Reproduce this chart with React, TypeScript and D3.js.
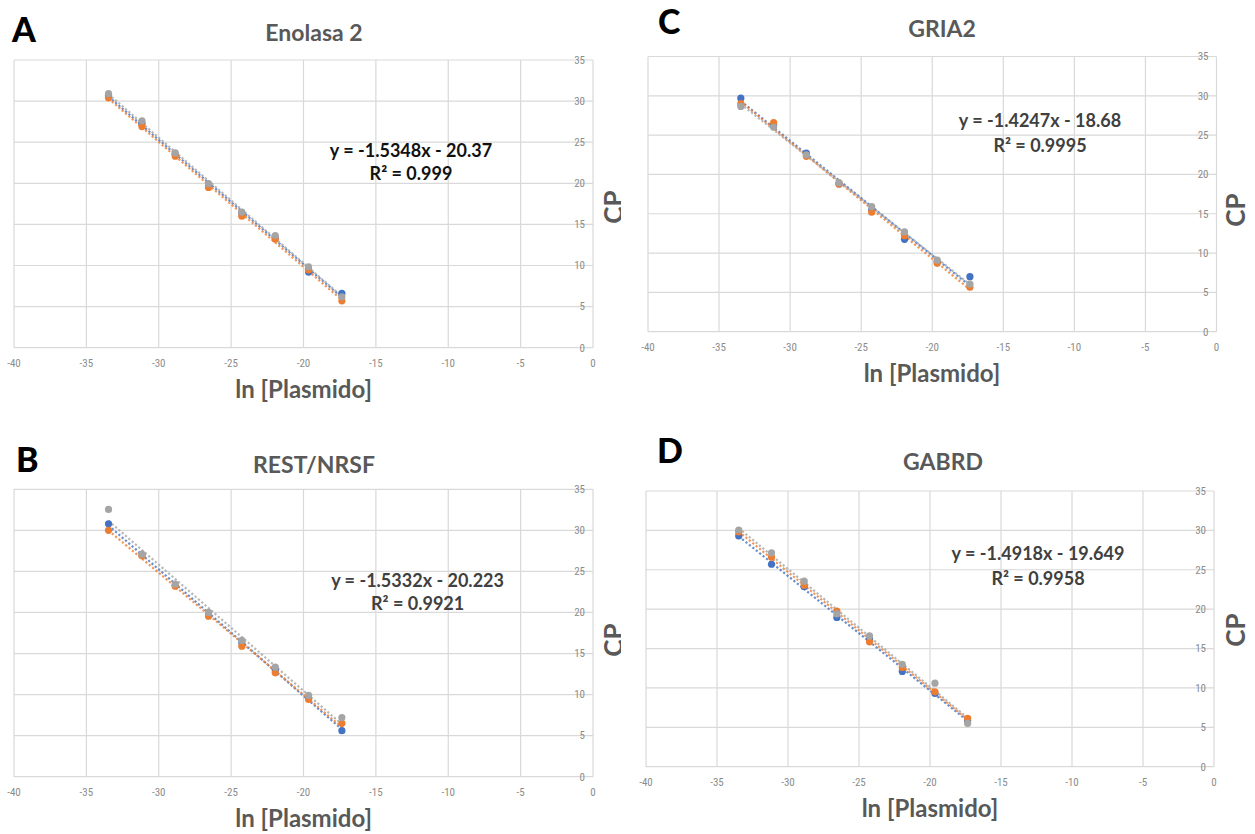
import React from "react";
import * as d3 from "d3";

// ---------- DATA ----------
const xValues = [-33.47, -31.16, -28.86, -26.56, -24.26, -21.95, -19.65, -17.35];
const xTickValues = [-40, -35, -30, -25, -20, -15, -10, -5, 0];
const xTickLabels = ["-40", "-35", "-30", "-25", "-20", "-15", "-10", "-5", "0"];
const yTickValues = [0, 5, 10, 15, 20, 25, 30, 35];
const yTickLabels = ["0", "5", "10", "15", "20", "25", "30", "35"];
const seriesColors = ["#4472C4", "#ED7D31", "#A5A5A5"];

// Panel A - Enolasa 2
const enoBlue = [30.7, 27.3, 23.5, 19.7, 16.3, 13.4, 9.2, 6.6];
const enoOrange = [30.4, 26.9, 23.3, 19.5, 16.0, 13.2, 9.45, 5.7];
const enoGray = [30.9, 27.6, 23.7, 19.95, 16.5, 13.65, 9.85, 6.2];

// Panel B - REST/NRSF
const restBlue = [30.8, 27.0, 23.3, 19.8, 16.3, 13.0, 9.6, 5.6];
const restOrange = [30.0, 26.9, 23.2, 19.55, 15.9, 12.65, 9.4, 6.5];
const restGray = [32.55, 27.1, 23.45, 20.0, 16.6, 13.35, 9.9, 7.2];

// Panel C - GRIA2
const griaBlue = [29.7, 26.3, 22.7, 18.8, 15.5, 11.75, 8.9, 7.0];
const griaOrange = [29.0, 26.6, 22.3, 18.8, 15.2, 12.2, 8.7, 5.65];
const griaGray = [28.65, 26.0, 22.5, 18.95, 15.9, 12.7, 9.1, 6.05];

// Panel D - GABRD
const gabBlue = [29.3, 25.7, 22.85, 18.95, 16.2, 12.1, 9.3, 5.85];
const gabOrange = [29.8, 26.6, 23.05, 19.75, 15.85, 12.6, 9.5, 6.15];
const gabGray = [30.05, 27.15, 23.55, 19.4, 16.6, 13.0, 10.6, 5.5];

const letters = ["A", "B", "C", "D"];
const titles = ["Enolasa 2", "REST/NRSF", "GRIA2", "GABRD"];
const equations = [
  "y = -1.5348x - 20.37",
  "y = -1.5332x - 20.223",
  "y = -1.4247x - 18.68",
  "y = -1.4918x - 19.649",
];
const rSquared = ["R² = 0.999", "R² = 0.9921", "R² = 0.9995", "R² = 0.9958"];
const xAxisTitle = "ln [Plasmido]";
const yAxisTitle = "CP";

// ---------- LAYOUT ----------
const FONT = "Lato, 'Open Sans', sans-serif";
const TICK_FONT = "'Roboto Condensed', 'Liberation Sans Narrow', 'DejaVu Sans Condensed', Roboto, sans-serif";

type Layout = {
  left: number; right: number; top: number; bottom: number;
  letterX: number; letterY: number;
  titleX: number; titleY: number;
  eqX: number; eqY1: number; eqY2: number; eqColor: string;
  xtX: number; xtY: number;
  cpX: number; cpY: number;
  clip: boolean;
};

const layouts: Layout[] = [
  { left: 14, right: 593, top: 60, bottom: 347.7, letterX: 12, letterY: 42, titleX: 314, titleY: 40.5,
    eqX: 411, eqY1: 156.5, eqY2: 180, eqColor: "#111111", xtX: 303.6, xtY: 398, cpX: 614, cpY: 207, clip: true },
  { left: 14, right: 593, top: 489.3, bottom: 776.7, letterX: 16, letterY: 472, titleX: 314, titleY: 473,
    eqX: 417.6, eqY1: 586.5, eqY2: 610, eqColor: "#404040", xtX: 303.6, xtY: 826.5, cpX: 614, cpY: 640, clip: true },
  { left: 648, right: 1216.5, top: 56.5, bottom: 331.7, letterX: 658, letterY: 34, titleX: 942, titleY: 37,
    eqX: 1040, eqY1: 127, eqY2: 152, eqColor: "#404040", xtX: 932, xtY: 382, cpX: 1236, cpY: 210, clip: false },
  { left: 646, right: 1214, top: 491, bottom: 766.7, letterX: 657, letterY: 463, titleX: 943, titleY: 470,
    eqX: 1038, eqY1: 560, eqY2: 585, eqColor: "#404040", xtX: 930, xtY: 816.5, cpX: 1236, cpY: 630, clip: false },
];

const panelSeries = [
  [enoBlue, enoOrange, enoGray],
  [restBlue, restOrange, restGray],
  [griaBlue, griaOrange, griaGray],
  [gabBlue, gabOrange, gabGray],
];

function fit(xs: number[], ys: number[]) {
  const mx = d3.mean(xs)!;
  const my = d3.mean(ys)!;
  let num = 0, den = 0;
  xs.forEach((x, i) => { num += (x - mx) * (ys[i] - my); den += (x - mx) * (x - mx); });
  const slope = num / den;
  return { slope, intercept: my - slope * mx };
}

function Panel({ idx }: { idx: number }) {
  const L = layouts[idx];
  const x = d3.scaleLinear().domain([-40, 0]).range([L.left, L.right]);
  const y = d3.scaleLinear().domain([0, 35]).range([L.bottom, L.top]);
  const series = panelSeries[idx];
  const xmin = d3.min(xValues)!;
  const xmax = d3.max(xValues)!;
  const line = d3.line<[number, number]>().x(d => x(d[0])).y(d => y(d[1]));
  const grid = "#d9d9d9";
  const tickColor = "#8c8c8c";
  return (
    <g clipPath={L.clip ? "url(#leftClip)" : undefined}>
      {xTickValues.map(v => (
        <line key={"gx" + v} x1={x(v)} x2={x(v)} y1={y(0)} y2={y(35)} stroke={grid} strokeWidth={1.2} />
      ))}
      {yTickValues.map(v => (
        <line key={"gy" + v} x1={x(-40)} x2={x(0)} y1={y(v)} y2={y(v)} stroke={grid} strokeWidth={1.2} />
      ))}
      {yTickValues.map((v, i) => (
        <text key={"yl" + v} x={x(0) - 8} y={y(v)} dy="0.35em" textAnchor="end" fontSize={11}
          fill={tickColor} fontFamily={TICK_FONT}>{yTickLabels[i]}</text>
      ))}
      {xTickValues.map((v, i) => (
        <text key={"xl" + v} x={x(v)} y={y(0) + 15} dy="0.35em" textAnchor="middle" fontSize={11}
          fill={tickColor} fontFamily={TICK_FONT}>{xTickLabels[i]}</text>
      ))}
      {series.map((ys, si) => {
        const f = fit(xValues, ys);
        const pts: [number, number][] = [[xmin, f.slope * xmin + f.intercept], [xmax, f.slope * xmax + f.intercept]];
        return <path key={"t" + si} d={line(pts)!} stroke={seriesColors[si]} strokeWidth={2.2}
          strokeDasharray="2.2 2.2" fill="none" opacity={0.8} />;
      })}
      {series.map((ys, si) => (
        <g key={"s" + si}>
          {ys.map((v, i) => (
            <circle key={i} cx={x(xValues[i])} cy={y(v)} r={3.6} fill={seriesColors[si]} />
          ))}
        </g>
      ))}
      <text x={L.letterX} y={L.letterY} fontSize={34} fontWeight={900} fill="#000" fontFamily={FONT}>{letters[idx]}</text>
      <text x={L.titleX} y={L.titleY} textAnchor="middle" fontSize={23} fontWeight="bold" fill="#595959" fontFamily={FONT}>{titles[idx]}</text>
      <text x={L.eqX} y={L.eqY1} textAnchor="middle" fontSize={18} fontWeight="bold" fill={L.eqColor} fontFamily={FONT}>{equations[idx]}</text>
      <text x={L.eqX} y={L.eqY2} textAnchor="middle" fontSize={18} fontWeight="bold" fill={L.eqColor} fontFamily={FONT}>{rSquared[idx]}</text>
      <text x={L.xtX} y={L.xtY} textAnchor="middle" fontSize={24} fontWeight="bold" fill="#595959" fontFamily={FONT}>{xAxisTitle}</text>
      <text transform={`translate(${L.cpX + 9},${L.cpY}) rotate(-90)`} textAnchor="middle" fontSize={26}
        fontWeight="bold" fill="#595959" fontFamily={FONT}>{yAxisTitle}</text>
    </g>
  );
}

export default function App() {
  return (
    <svg width={1255} height={834} style={{ position: "absolute", left: 0, top: 0, background: "#fff" }}>
      <defs>
        <clipPath id="leftClip"><rect x={0} y={0} width={621} height={834} /></clipPath>
      </defs>
      <rect x={0} y={0} width={1255} height={834} fill="#fff" />
      {[0, 1, 2, 3].map(i => <Panel key={i} idx={i} />)}
    </svg>
  );
}
